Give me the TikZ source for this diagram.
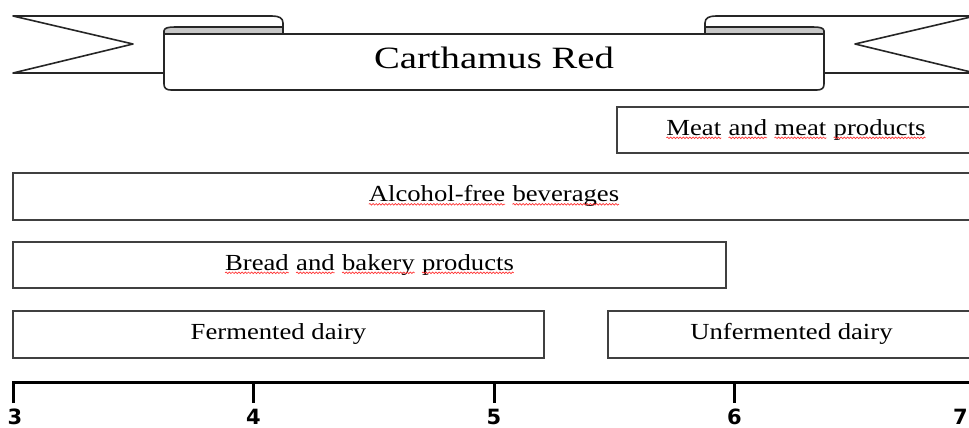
\documentclass[tikz,border=0pt]{standalone}
\usepackage{fontspec}
\usetikzlibrary{decorations.pathmorphing}
\setmainfont{Liberation Serif}
\newfontfamily\labfont[FakeStretch=1.16]{Liberation Serif}
\newfontfamily\ttlfont[FakeStretch=1.25]{Liberation Serif}
\newfontfamily\axfont{DejaVu Sans}
\newcommand\rwv[1]{\tikz[baseline=(w.base), x=1pt, y=1pt]{\node[inner sep=0pt, outer sep=0pt, anchor=base, draw=none,
    minimum width=0pt, minimum height=0pt, text height=, text depth=] (w) {#1};
  \draw[red!80, line width=0.7pt, decorate, decoration={snake, amplitude=0.8pt, segment length=3.2pt}] ([yshift=-2.8pt]w.base west) -- ([yshift=-2.8pt]w.base east);}}
\tikzset{
  rib/.style={line width=1.6pt, draw=black!85, line join=round},
  catbox/.style={draw=black!75, line width=2pt, rectangle, inner sep=0pt,
    text height=15pt, text depth=5pt, font=\labfont\fontsize{23}{27}\selectfont},
  axisline/.style={line width=3pt, black},
  axlab/.style={font=\axfont\bfseries\fontsize{21}{25}\selectfont, inner sep=0pt, anchor=north}
}
\begin{document}
\begin{tikzpicture}[x=1pt,y=-1pt]
\useasboundingbox (0,0) rectangle (969,428);
\clip (0,0) rectangle (969,428);
% ribbon tails
\draw[rib] (283,34) -- (283,23) .. controls (283,18) and (279,16) .. (272,16) -- (13,16) -- (133,44) -- (13,73) -- (164,73);
\draw[rib] (705,34) -- (705,23) .. controls (705,18) and (709,16) .. (716,16) -- (975,16) -- (855,44) -- (975,73) -- (824,73);
% band
\fill[white] (164,34) rectangle (824,90);
\filldraw[rib, fill=black!22] (164,34) -- (164,31) .. controls (164,28) and (168,27) .. (175,27) -- (283,27) -- (283,34) -- cycle;
\filldraw[rib, fill=black!22] (824,34) -- (824,31) .. controls (824,28) and (820,27) .. (813,27) -- (705,27) -- (705,34) -- cycle;
\draw[rib] (164,31) -- (164,84) .. controls (164,88) and (166,90) .. (171,90) -- (817,90) .. controls (822,90) and (824,88) .. (824,84) -- (824,31);
\draw[rib] (164,34) -- (824,34);
\node[inner sep=0pt, anchor=base, font=\ttlfont\fontsize{31}{36}\selectfont] (title) at (494,68) {Carthamus Red};
% category boxes
\node[catbox, minimum width=358pt, minimum height=46pt] (meat) at (796,130) {\rwv{Meat} \rwv{and} \rwv{meat} \rwv{products}};
\node[catbox, minimum width=962pt, minimum height=47pt] (alc) at (494,196.5) {\rwv{Alcohol-free} \rwv{beverages}};
\node[catbox, minimum width=713pt, minimum height=46pt] (bread) at (369.5,265) {\rwv{Bread} \rwv{and} \rwv{bakery} \rwv{products}};
\node[catbox, minimum width=531pt, minimum height=47pt] (ferm) at (278.5,334.5) {Fermented dairy};
\node[catbox, minimum width=367pt, minimum height=47pt] (unferm) at (791.5,334.5) {Unfermented dairy};
% axis
\coordinate (t3) at (13,382);
\coordinate (t4) at (253.5,382);
\coordinate (t5) at (494,382);
\coordinate (t6) at (734.5,382);
\coordinate (t7) at (975,382);
\draw[axisline] ([yshift=-21pt]t3) -- (t3) -- (t7);
\draw[axisline] (t4) -- ++(0,21) (t5) -- ++(0,21) (t6) -- ++(0,21) (t7) -- ++(0,21);
\node[axlab] (l3) at ([xshift=2pt,yshift=-27pt]t3) {3};
\node[axlab] (l4) at ([yshift=-27pt]t4) {4};
\node[axlab] (l5) at ([yshift=-27pt]t5) {5};
\node[axlab] (l6) at ([yshift=-27pt]t6) {6};
\node[axlab, anchor=north east] (l7) at ([xshift=-7pt,yshift=-27pt]t7) {7};
\end{tikzpicture}
\end{document}
